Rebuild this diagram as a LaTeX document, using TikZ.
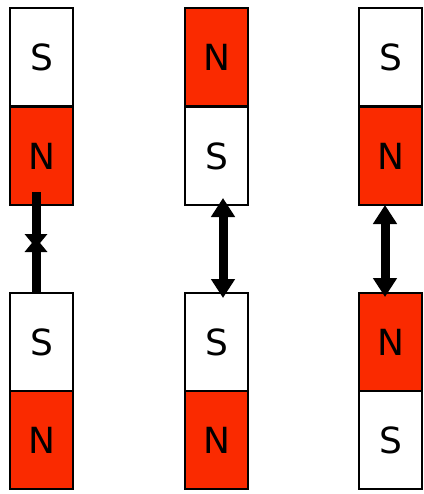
\documentclass[tikz,border=0pt]{standalone}
\usepackage{fontspec}
\setmainfont{DejaVu Sans}
\usetikzlibrary{arrows.meta,calc}
\definecolor{magred}{RGB}{250,42,0}
\begin{document}
\begin{tikzpicture}[x=1pt,y=-1pt,
  pole/.style={draw=black,line width=1.2pt,minimum width=63pt,minimum height=98pt,
    inner sep=0pt,outer sep=0pt,font=\fontsize{36}{36}\selectfont,anchor=north west},
  npole/.style={pole,fill=magred},
  spole/.style={pole,fill=white},
  force/.style={line width=9pt,-{Triangle[width=22pt,length=14pt]}},
  dforce/.style={line width=9pt,{Triangle[width=23pt,length=19pt]}-{Triangle[width=23pt,length=19pt]}}]
\useasboundingbox (0,0) rectangle (423,494);
% column 1
\node[spole] (s1a) at (10,8) {S};
\node[npole] (n1a) at (10,107) {N};
\node[spole] (s1b) at (10,293) {S};
\node[npole] (n1b) at (10,391) {N};
% column 2
\node[npole] (n2a) at (185,8) {N};
\node[spole] (s2a) at (185,107) {S};
\node[spole] (s2b) at (185,293) {S};
\node[npole] (n2b) at (185,391) {N};
% column 3
\node[spole] (s3a) at (359,8) {S};
\node[npole] (n3a) at (359,107) {N};
\node[npole] (n3b) at (359,293) {N};
\node[spole] (s3b) at (359,391) {S};
% arrows
\coordinate (t1) at ($(n1a.south)+(-5.5,-13)$);
\coordinate (m1) at ($(n1a.south)+(-5.5,38)$);
\coordinate (b1) at ($(s1b.north)+(-5.5,0)$);
\draw[force] (b1) -- ($(m1)+(0,-5)$);
\draw[force] (t1) -- ($(m1)+(0,5)$);
\draw[dforce] ($(s2a.south)+(6.5,-7)$) -- ($(s2b.north)+(6.5,5)$);
\draw[dforce] ($(n3a.south)+(-5.5,0)$) -- ($(n3b.north)+(-5.5,4)$);
\end{tikzpicture}
\end{document}
